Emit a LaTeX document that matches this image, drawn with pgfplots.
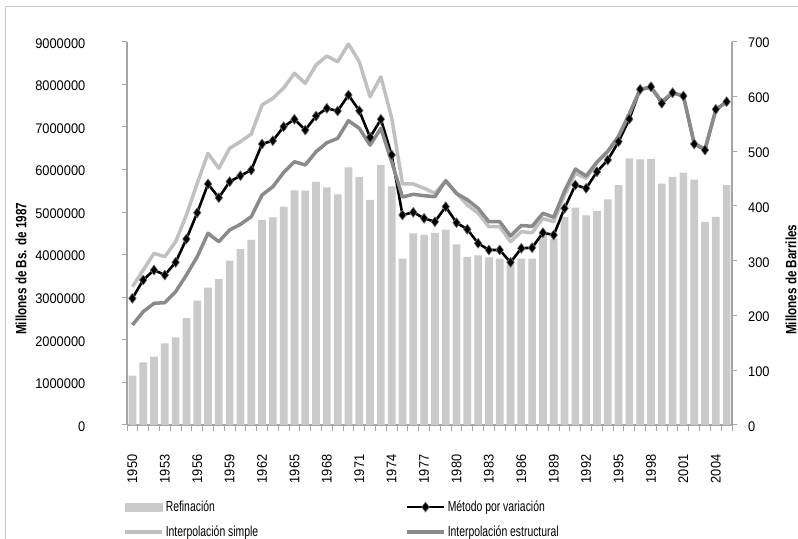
\documentclass[border=0pt]{standalone}
\usepackage{fontspec}
\setmainfont{Liberation Sans}
\newfontfamily\tickfont[FakeStretch=0.92]{Liberation Sans}
\newfontfamily\legfont[FakeStretch=0.72]{Liberation Sans}
\newfontfamily\titfont[FakeStretch=0.78]{Liberation Sans}
\usepackage{pgfplots}
\pgfplotsset{compat=1.18}
\usepackage{pgfplotstable}

\definecolor{barcol}{RGB}{202,202,202}
\definecolor{simplecol}{RGB}{192,192,192}
\definecolor{estrcol}{RGB}{138,138,138}
\definecolor{axcol}{RGB}{165,165,165}
\definecolor{framecol}{RGB}{200,200,200}

\pgfplotstableread{
year ref var simple estr
1950 90 2975000 3247000 2348000
1951 114.5 3405000 3639000 2660000
1952 124.7 3639000 4031000 2857000
1953 149 3522000 3952000 2872000
1954 160 3820000 4304000 3130000
1955 195 4367000 4931000 3522000
1956 227 4985000 5675000 3952000
1957 251 5659000 6379000 4501000
1958 266.6 5337000 6027000 4304000
1959 300 5713000 6497000 4579000
1960 321 5853000 6652000 4712000
1961 338 5987000 6833000 4891000
1962 374 6598000 7514000 5400000
1963 379 6675000 7671000 5595000
1964 398.6 7004000 7913000 5929000
1965 428.6 7178000 8258000 6182000
1966 428 6926000 8023000 6105000
1967 444 7255000 8453000 6417000
1968 434 7436000 8664000 6628000
1969 421 7373000 8530000 6732000
1970 470.6 7748000 8946000 7145000
1971 453 7380000 8530000 6966000
1972 411 6755000 7708000 6574000
1973 475 7178000 8178000 6966000
1974 436 6340000 7208000 6182000
1975 304 4931000 5659000 5353000
1976 350 4994000 5659000 5417000
1977 347 4853000 5558000 5384000
1978 351 4773000 5440000 5360000
1979 357 5126000 5729000 5736000
1980 330 4750000 5447000 5436000
1981 307 4595000 5166000 5288000
1982 310 4266000 4971000 5088000
1983 306 4109000 4656000 4773000
1984 304 4109000 4656000 4773000
1985 300 3820000 4304000 4438000
1986 304 4149000 4539000 4684000
1987 304 4163000 4515000 4665000
1988 350 4515000 4853000 4971000
1989 340 4461000 4773000 4877000
1990 380 5088000 5400000 5494000
1991 397 5635000 5910000 6011000
1992 383 5558000 5792000 5846000
1993 391 5947000 6163000 6175000
1994 412 6222000 6433000 6422000
1995 438 6652000 6786000 6774000
1996 487 7185000 7314000 7302000
1997 485 7882000 7882000 7882000
1998 486 7943000 7929000 7929000
1999 441 7553000 7591000 7591000
2000 453 7802000 7802000 7802000
2001 461 7725000 7725000 7725000
2002 448 6598000 6614000 6614000
2003 371 6457000 6473000 6473000
2004 380 7413000 7396000 7396000
2005 438 7591000 7591000 7591000
}\datatab

\begin{document}
\begin{tikzpicture}
\path[use as bounding box] (0,0) rectangle (798bp,539bp);
% bars: right axis (Millones de Barriles)
\begin{axis}[
  at={(127bp,114bp)}, anchor=south west, scale only axis,
  width=605bp, height=383.3bp,
  xmin=1949.5, xmax=2005.5, ymin=0, ymax=700,
  axis y line*=right, axis x line*=bottom,
  ytick pos=right, yticklabel pos=right,
  axis line style={-, draw=axcol, line width=1.3bp},
  ytick={0,100,200,300,400,500,600,700},
  yticklabels={0,100,200,300,400,500,600,700},
  xtick={1950,1953,1956,1959,1962,1965,1968,1971,1974,1977,1980,1983,1986,1989,1992,1995,1998,2001,2004},
  xticklabels={1950,1953,1956,1959,1962,1965,1968,1971,1974,1977,1980,1983,1986,1989,1992,1995,1998,2001,2004},
  minor xtick={1949.5,1950.5,...,2005.5},
  tick align=outside,
  major tick length=5bp, minor tick length=6bp,
  every major x tick/.append style={draw=none},
  every minor x tick/.append style={draw=axcol, line width=1bp},
  every major y tick/.append style={draw=axcol, line width=1bp},
  xticklabel style={font=\tickfont\fontsize{14pt}{16pt}\selectfont, rotate=90, anchor=east, inner sep=0pt},
  xticklabel shift=24.5bp,
  yticklabel style={font=\tickfont\fontsize{14pt}{16pt}\selectfont, anchor=west, inner sep=0pt, yshift=-1.5bp},
  yticklabel shift=11bp,
  clip=false,
]
\addplot[ybar, bar width=7.7bp, fill=barcol, draw=none] table[x=year, y=ref] {\datatab};
\end{axis}
% lines: left axis (Millones de Bs. de 1987)
\begin{axis}[
  at={(127bp,114bp)}, anchor=south west, scale only axis,
  width=605bp, height=383.3bp,
  xmin=1949.5, xmax=2005.5, ymin=0, ymax=9000000,
  axis y line*=left, axis x line=none,
  axis line style={-, draw=axcol, line width=1.3bp},
  ytick={0,1000000,2000000,3000000,4000000,5000000,6000000,7000000,8000000,9000000},
  yticklabels={0,1000000,2000000,3000000,4000000,5000000,6000000,7000000,8000000,9000000},
  scaled y ticks=false,
  tick align=outside,
  major tick length=5bp,
  every major y tick/.append style={draw=axcol, line width=1bp},
  yticklabel style={font=\tickfont\fontsize{14pt}{16pt}\selectfont, anchor=east, inner sep=0pt, yshift=-1.5bp},
  yticklabel shift=36.5bp,
  clip=false,
  legend columns=2,
  legend cell align=left,
  legend style={at={(0,0)}, anchor=north west, xshift=-3.75bp, yshift=-76bp,
    draw=none, fill=none, inner sep=0pt, outer sep=0pt,
    font=\legfont\fontsize{14.5pt}{16pt}\selectfont,
    nodes={inner sep=0pt}, row sep=13bp, column sep=2bp},
  legend image code/.code={\draw[mark repeat=2,mark phase=2,#1] plot coordinates {(0bp,0bp) (18.5bp,0bp) (37bp,0bp)};},
]
\addlegendimage{legend image code/.code={\fill[barcol] (0bp,-4.35bp) rectangle (37bp,4.35bp);}}
\addlegendentry{\makebox[237.5bp][l]{\rule[-3bp]{0pt}{13bp}Refinación}}
\addlegendimage{black, line width=2.6bp, mark=diamond*, mark size=5bp, mark options={fill=black, draw=black!55, line width=0.6bp}}
\addlegendentry{\rule[-3bp]{0pt}{13bp}Método por variación}
\addlegendimage{simplecol, line width=3.5bp}
\addlegendentry{\makebox[237.5bp][l]{\rule[-3bp]{0pt}{13bp}Interpolación simple}}
\addlegendimage{estrcol, line width=3.5bp}
\addlegendentry{\rule[-3bp]{0pt}{13bp}Interpolación estructural}

\addplot[forget plot, simplecol, line width=3.5bp, line join=round] table[x=year, y=simple] {\datatab};
\addplot[forget plot, black, line width=2.6bp, line join=round, mark=diamond*, mark size=5bp, mark options={fill=black, draw=black!55, line width=0.6bp}] table[x=year, y=var] {\datatab};
\addplot[forget plot, estrcol, line width=3.5bp, line join=round] table[x=year, y=estr] {\datatab};
\end{axis}
\node[rotate=90, anchor=west, inner sep=0pt, font=\titfont\bfseries\fontsize{15pt}{17pt}\selectfont] at (21bp,204bp) {Millones de Bs. de 1987};
\node[rotate=90, anchor=west, inner sep=0pt, font=\titfont\bfseries\fontsize{15pt}{17pt}\selectfont] at (791bp,204bp) {Millones de Barriles};
\draw[framecol, line width=1bp] (5bp,0bp) -- (5bp,532bp) -- (798bp,532bp);
\end{tikzpicture}
\end{document}
